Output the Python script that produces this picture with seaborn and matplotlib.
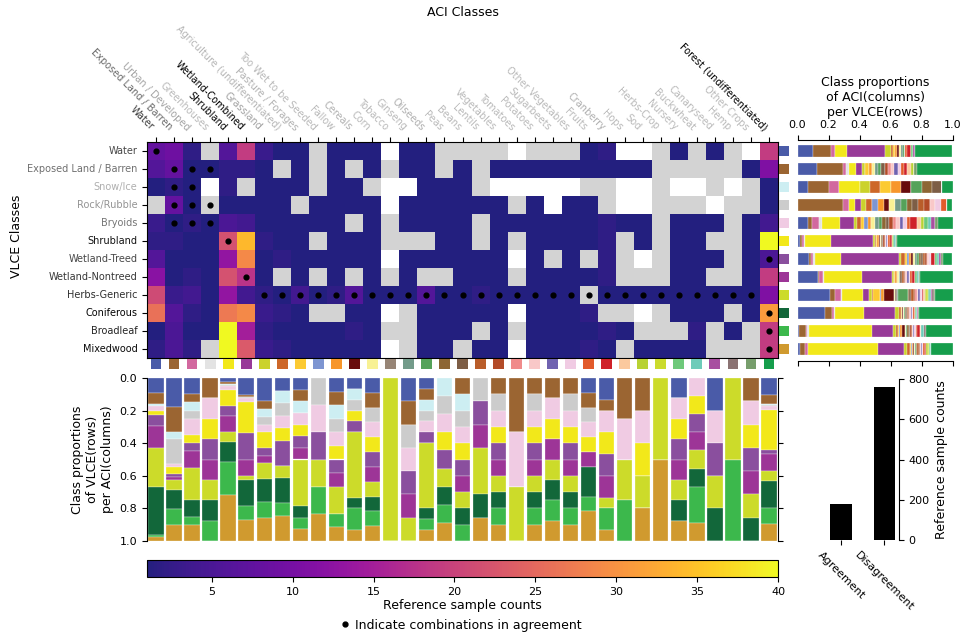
import numpy as np
import pandas as pd
import matplotlib
matplotlib.use('Agg')
import matplotlib.pyplot as plt
import seaborn as sns
from matplotlib.colors import ListedColormap
from matplotlib.lines import Line2D

N = np.nan

aci_classes = ['Water', 'Exposed Land / Barren', 'Urban / Developed', 'Greenhouses', 'Shrubland',
               'Wetland-Combined', 'Grassland', 'Agriculture (undifferentiated)', 'Pasture / Forages',
               'Too Wet to be Seeded', 'Fallow', 'Cereals', 'Corn', 'Tobacco', 'Ginseng', 'Oilseeds',
               'Peas', 'Beans', 'Lentils', 'Vegetables', 'Tomatoes', 'Potatoes', 'Sugarbeets',
               'Other Vegetables', 'Fruits', 'Cranberry', 'Hops', 'Sod', 'Herbs-Crop', 'Nursery',
               'Buckwheat', 'Canaryseed', 'Hemp', 'Other Crops', 'Forest (undifferentiated)']

vlce_classes = ['Water', 'Exposed Land / Barren', 'Snow/Ice', 'Rock/Rubble', 'Bryoids', 'Shrubland',
                'Wetland-Treed', 'Wetland-Nontreed', 'Herbs-Generic', 'Coniferous', 'Broadleaf',
                'Mixedwood']

aci_colors = ['#4a5ba8', '#9b6532', '#d2689f', '#e3e3e3', '#f2e81a', '#983a98', '#cbd22c', '#cd6729',
              '#fcca32', '#7d95d1', '#f7962b', '#680c0c', '#f8f194', '#978576', '#739b8a', '#55a25a',
              '#8d6634', '#7d5e46', '#b95d2a', '#b34b28', '#f08b8b', '#f9c8c8', '#6f62b0', '#f0cbe3',
              '#e25a2b', '#cf2129', '#fbc99e', '#b8d233', '#cbdb2c', '#6ec97a', '#6ecbb9', '#a84ea0',
              '#8b7373', '#779e6c', '#169e4c']

vlce_colors = ['#4a5ba8', '#9b6532', '#cdeef2', '#cccccc', '#f0cbe3', '#f2e81a', '#8a4f9e', '#9d3597',
               '#ccdb2a', '#12673a', '#3cb84c', '#d09a2f']

# reference sample counts, rows = VLCE, columns = ACI (nan = no class present)
counts = np.array([
    [8, 9, 2, 0, 6, 19, 3, 1, 1, 0, 1, 1, 1, N, 1, 1, 0, 0, 0, 0, N, 0, 0, 0, 1, 2, N, N, 0, 1, 0, 1, 0, N, 19],
    [6, 8, 1, 1, 2, 2, 1, 0, 1, 0, 1, 0, 1, 0, 1, 1, 0, 1, 0, 1, 1, 1, 1, 1, 1, 1, 1, 1, 0, 0, 0, 0, 0, 1, 11],
    [1, 2, 1, N, 2, 0, 1, 1, 1, 0, 1, 1, 0, N, N, 1, 1, 1, 0, N, N, N, N, N, 0, 0, N, N, 0, N, N, 0, N, 0, 1],
    [0, 8, 1, 0, 1, 1, 1, 1, 0, 1, 1, 1, 1, N, 1, 1, 1, 1, 1, 1, 0, 1, N, 1, 1, 0, N, N, 0, 0, 0, N, 0, 0, 1],
    [3, 1, 2, 1, 5, 4, 1, 1, 1, 1, 1, 0, 1, 0, 1, 1, 1, 1, 0, 1, 1, 1, 1, 1, 1, 2, 1, 1, 0, 1, 1, 1, 0, 1, 4],
    [2, 2, 1, 1, 22, 34, 2, 1, 1, 0, 1, 1, 1, 0, 0, 0, 1, 1, 0, 1, 0, 1, 1, 1, 1, 2, 0, 1, 0, 1, 1, 0, 0, 1, 46],
    [6, 1, 1, 1, 13, 29, 1, 2, 1, 1, 1, 1, 1, N, 1, 1, 1, 1, 1, 1, N, 1, 0, 1, 0, 2, 0, N, 0, 1, 1, 1, 0, 1, 5],
    [12, 1, 2, 1, 22, 18, 1, 0, 1, 0, 1, 0, 1, 0, 1, 0, 0, 1, 1, 1, 0, 1, 1, 1, 1, 2, 0, 0, 0, 1, 1, 0, 0, 1, 19],
    [21, 3, 4, 1, 13, 4, 2, 1, 4, 1, 2, 6, 1, 1, 1, 6, 1, 1, 2, 1, 1, 1, 1, 1, 0, 1, 1, 1, 1, 1, 1, 1, 1, 1, 11],
    [26, 6, 2, 1, 27, 29, 3, 2, 1, 0, 0, 1, 1, N, 0, 1, 1, 1, 1, 1, N, 1, 1, 1, 2, 0, 0, N, 0, 1, 1, 1, 0, 1, 31],
    [1, 5, 1, 1, 45, 15, 2, 1, 1, 1, 1, 2, 1, 0, 0, 1, 1, 1, 0, 1, 0, 1, 1, 1, 1, 2, 1, 0, 0, 0, 2, 0, 1, 0, 19],
    [2, 5, 2, 0, 62, 23, 3, 2, 1, 1, 1, 1, 1, N, 0, 1, 1, 0, 1, 1, N, 1, 1, 1, 2, 1, 0, 1, 1, 1, 1, 0, 0, 0, 19],
])

# ACI columns that agree with each VLCE row
agree_cols = [[0], [1, 2, 3], [1, 2], [1, 2, 3], [1, 2, 3], [4], [34], [5],
              list(range(6, 34)), [34], [34], [34]]

outcome = ['Agreement', 'Disagreement']
outcome_counts = [177, 758]

W, H = 967, 637


def rect(x0, y0, x1, y1):
    return [x0 / W, 1 - y1 / H, (x1 - x0) / W, (y1 - y0) / H]


# plasma, with the darkest end a little softened like the printed figure
base = plt.get_cmap('plasma')(np.linspace(0, 1, 256))[:, :3]
lum = base @ np.array([0.3, 0.59, 0.11])
dark = np.clip(1 - lum / 0.32, 0, 1)
sat = 1 - 0.25 * dark
muted = lum[:, None] + sat[:, None] * (base - lum[:, None])
muted = muted + (1 - muted) * (0.12 * dark)[:, None]
heat_cmap = ListedColormap(np.clip(muted, 0, 1))

fig = plt.figure(figsize=(W / 100, H / 100), dpi=100)

df = pd.DataFrame(counts, index=vlce_classes, columns=aci_classes)
filled = np.nan_to_num(counts)
row_tot = filled.sum(axis=1)
col_tot = filled.sum(axis=0)

# ---- heatmap
ax_h = fig.add_axes(rect(147, 142, 778, 358))
cax = fig.add_axes(rect(147, 560, 778, 577))
sns.heatmap(df.where(df == 0), cmap=ListedColormap(['#d3d3d3']), vmin=0, vmax=1,
            cbar=False, ax=ax_h, xticklabels=aci_classes, yticklabels=vlce_classes)
sns.heatmap(df.where(df >= 1), cmap=heat_cmap, vmin=1, vmax=40, ax=ax_h, cbar_ax=cax,
            cbar_kws={'orientation': 'horizontal', 'ticks': [5, 10, 15, 20, 25, 30, 35, 40]},
            xticklabels=aci_classes, yticklabels=vlce_classes)

rr, cc = [], []
for r, cols in enumerate(agree_cols):
    for c in cols:
        rr.append(r + 0.5)
        cc.append(c + 0.5)
ax_h.scatter(cc, rr, s=12, color='black', zorder=3)

ax_h.tick_params(axis='x', top=True, labeltop=True, bottom=False, labelbottom=False, labelsize=7)
ax_h.set_xticklabels(aci_classes, rotation=-45, ha='right')
ax_h.set_yticklabels(vlce_classes, rotation=0, fontsize=7)
for tick, tot in zip(ax_h.xaxis.get_major_ticks(), col_tot):
    a = float(np.clip(np.sqrt(tot / 150), 0.28, 1))
    tick.label2.set_color((0, 0, 0, a))
for tick, tot in zip(ax_h.yaxis.get_major_ticks(), row_tot):
    a = float(np.clip(np.sqrt(tot / 150), 0.28, 1))
    tick.label1.set_color((0, 0, 0, a))
ax_h.set_xlabel('')
ax_h.set_ylabel('')
for s in ax_h.spines.values():
    s.set_visible(True)
    s.set_linewidth(0.8)

cbar = ax_h.collections[1].colorbar
cbar.outline.set_visible(True)
cbar.outline.set_linewidth(0.8)
cbar.ax.tick_params(labelsize=8)
cbar.set_label('Reference sample counts', fontsize=9, labelpad=2)

fig.text(462.5 / W, 1 - 13 / H, 'ACI Classes', ha='center', va='center', fontsize=9)
fig.text(17 / W, 1 - 236 / H, 'VLCE Classes', ha='center', va='center', rotation=90, fontsize=9)

# ---- colour swatches
ax_cs = fig.add_axes(rect(147, 359, 778, 369))
ax_cs.bar(np.arange(len(aci_classes)) + 0.5, 1, width=0.6, color=aci_colors)
ax_cs.set_xlim(0, len(aci_classes))
ax_cs.set_ylim(0, 1)
ax_cs.axis('off')

ax_rs = fig.add_axes(rect(779, 142, 789, 358))
ax_rs.barh(np.arange(len(vlce_classes)) + 0.5, 1, height=0.6, color=vlce_colors)
ax_rs.set_ylim(len(vlce_classes), 0)
ax_rs.set_xlim(0, 1)
ax_rs.axis('off')

# ---- proportions of ACI per VLCE row
ax_r = fig.add_axes(rect(797.5, 140, 952.5, 361))
row_prop = filled / row_tot[:, None]
left = np.zeros(len(vlce_classes))
for j in range(len(aci_classes)):
    ax_r.barh(np.arange(len(vlce_classes)) + 0.5, row_prop[:, j], left=left, height=0.7,
              color=aci_colors[j], edgecolor='white', linewidth=0.2)
    left += row_prop[:, j]
ax_r.set_xlim(0, 1)
ax_r.set_ylim(12 + 3 / 18, -2 / 18)
ax_r.set_yticks([])
ax_r.set_xticks([0, 0.2, 0.4, 0.6, 0.8, 1.0])
ax_r.set_xticklabels(['0.0', '0.2', '0.4', '0.6', '0.8', '1.0'])
ax_r.tick_params(axis='x', top=True, labeltop=True, bottom=True, labelbottom=False, labelsize=8)
ax_r.spines['left'].set_visible(False)
ax_r.spines['right'].set_visible(False)
ax_r.set_title('Class proportions\nof ACI(columns)\nper VLCE(rows)', fontsize=9, pad=3)

# ---- proportions of VLCE per ACI column
ax_b = fig.add_axes(rect(147, 378, 778, 541))
col_prop = filled / col_tot[None, :]
bottom = np.zeros(len(aci_classes))
for i in range(len(vlce_classes)):
    ax_b.bar(np.arange(len(aci_classes)) + 0.5, col_prop[i], bottom=bottom, width=0.85,
             color=vlce_colors[i], edgecolor='white', linewidth=0.2)
    bottom += col_prop[i]
ax_b.set_xlim(0, len(aci_classes))
ax_b.set_ylim(1, 0)
ax_b.set_xticks([])
ax_b.set_yticks([0, 0.2, 0.4, 0.6, 0.8, 1.0])
ax_b.set_yticklabels(['0.0', '0.2', '0.4', '0.6', '0.8', '1.0'])
ax_b.tick_params(axis='y', right=True, labelsize=8)
ax_b.spines['top'].set_visible(False)
ax_b.spines['bottom'].set_visible(False)
ax_b.set_ylabel('Class proportions\nof VLCE(rows)\nper ACI(columns)', fontsize=9)

# ---- agreement bars
ax_bar = fig.add_axes(rect(827, 379, 898.6, 540))
sns.barplot(x=outcome, y=outcome_counts, color='black', saturation=1, width=0.5, ax=ax_bar)
ax_bar.set_xlim(-0.325, 1.325)
ax_bar.set_ylim(0, 800)
ax_bar.yaxis.tick_right()
ax_bar.yaxis.set_label_position('right')
ax_bar.set_ylabel('Reference sample counts', fontsize=9)
ax_bar.set_xticks([0, 1])
ax_bar.set_xticklabels(outcome, rotation=-45, ha='center')
ax_bar.tick_params(labelsize=8)
for s in ['left', 'top', 'bottom']:
    ax_bar.spines[s].set_visible(False)

fig.legend(handles=[Line2D([0], [0], marker='o', color='black', linestyle='', markersize=3.5)],
           labels=['Indicate combinations in agreement'], loc='center',
           bbox_to_anchor=(460 / W, 1 - 625 / H), frameon=False, fontsize=9,
           handletextpad=0.2, handlelength=1.2)

fig.savefig('out.png', dpi=100)
